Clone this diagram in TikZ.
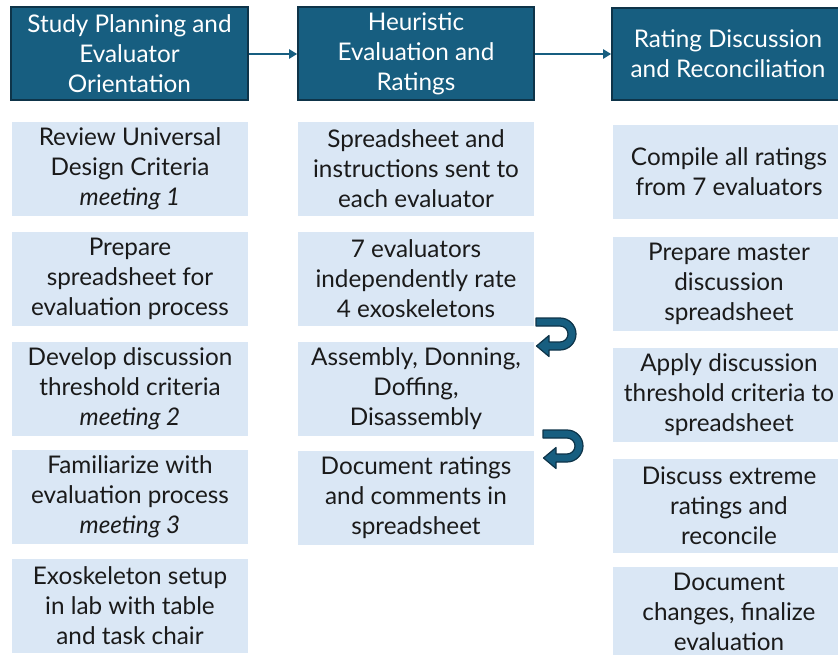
\documentclass[tikz,border=0pt]{standalone}
\usepackage{fontspec}
\setmainfont{Lato}
\usetikzlibrary{arrows.meta}
\definecolor{hdr}{HTML}{175E80}
\definecolor{hdrb}{HTML}{0E3449}
\definecolor{lite}{HTML}{DAE7F5}
\definecolor{txt}{HTML}{1A1A1A}
\begin{document}
\begin{tikzpicture}[x=1pt,y=-1pt,
  hbox/.style={draw=hdrb, line width=1.6pt, fill=hdr, text=white, align=center,
    font=\fontsize{24.3}{30}\selectfont, inner sep=0pt},
  lbox/.style={fill=lite, text=txt, align=center,
    font=\fontsize{24.3}{30}\selectfont, inner sep=0pt},
  flow/.style={draw=hdr, line width=2pt, -{Triangle[length=8pt,width=9pt]}},
  uturn/.style={fill=hdr, draw=hdrb, line width=1.2pt, line join=round}]
\useasboundingbox (0,0) rectangle (838,655);

% headers
\node[hbox, minimum width=237pt, minimum height=93pt] (h1) at (129.5,53.5)
  {Study Planning and\\Evaluator\\Orientation};
\node[hbox, minimum width=236pt, minimum height=93pt] (h2) at (416,53.5)
  {Heuristic\\Evaluation and\\Ratings};
\node[hbox, minimum width=232pt, minimum height=92pt] (h3) at (728,54)
  {Rating Discussion\\and Reconciliation};

\draw[flow] (h1.east |- 0,54) -- (h2.west |- 0,54);
\draw[flow] (h2.east |- 0,54) -- (h3.west |- 0,54);

% column 1
\node[lbox, minimum width=236pt, minimum height=94pt] (a1) at (130,169)
  {Review Universal\\Design Criteria\\\textit{meeting 1}};
\node[lbox, minimum width=236pt, minimum height=94pt] (a2) at (130,279)
  {Prepare\\spreadsheet for\\evaluation process};
\node[lbox, minimum width=236pt, minimum height=94pt] (a3) at (130,389)
  {Develop discussion\\threshold criteria\\\textit{meeting 2}};
\node[lbox, minimum width=236pt, minimum height=94pt] (a4) at (130,497)
  {Familiarize with\\evaluation process\\\textit{meeting 3}};
\node[lbox, minimum width=236pt, minimum height=94pt] (a5) at (130,606)
  {Exoskeleton setup\\in lab with table\\and task chair};

% column 2
\node[lbox, minimum width=236pt, minimum height=94pt] (b1) at (416,169)
  {Spreadsheet and\\instructions sent to\\each evaluator};
\node[lbox, minimum width=236pt, minimum height=94pt] (b2) at (416,279)
  {7 evaluators\\independently rate\\4 exoskeletons};
\node[lbox, minimum width=236pt, minimum height=94pt] (b3) at (416,389)
  {Assembly, Donning,\\Doffing,\\Disassembly};
\node[lbox, minimum width=236pt, minimum height=94pt] (b4) at (416,498)
  {Document ratings\\and comments in\\spreadsheet};

% column 3
\node[lbox, minimum width=232pt, minimum height=94pt] (c1) at (729,172)
  {Compile all ratings\\from 7 evaluators};
\node[lbox, minimum width=232pt, minimum height=94pt] (c2) at (729,284)
  {Prepare master\\discussion\\spreadsheet};
\node[lbox, minimum width=232pt, minimum height=94pt] (c3) at (729,395)
  {Apply discussion\\threshold criteria to\\spreadsheet};
\node[lbox, minimum width=232pt, minimum height=94pt] (c4) at (729,506)
  {Discuss extreme\\ratings and\\reconcile};
\node[lbox, minimum width=232pt, minimum height=90pt] (c5) at (729,612)
  {Document\\changes, finalize\\evaluation};

% u-turn icons
\foreach \ox/\oy in {536/318, 543/430}{
  \begin{scope}[shift={(\ox,\oy)}]
    \filldraw[uturn] (0,0) -- (24,0) arc[start angle=-90, end angle=90, radius=16]
      -- (13,32) -- (13,38.5) -- (0.5,28) -- (13,17.5) -- (13,24) -- (24,24)
      arc[start angle=90, end angle=-90, radius=8] -- (0,8) -- cycle;
  \end{scope}
}
\end{tikzpicture}
\end{document}
